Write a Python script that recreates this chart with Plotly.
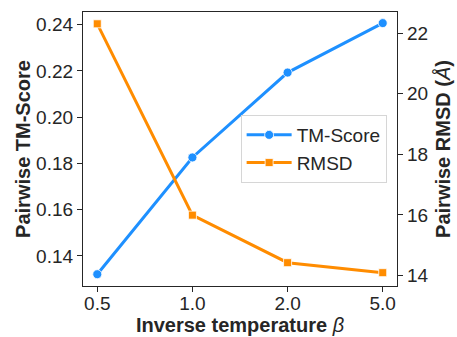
import plotly.graph_objects as go

beta = ["0.5", "1.0", "2.0", "5.0"]
tm_score = [0.1321, 0.1826, 0.2193, 0.2407]
rmsd = [22.31, 15.99, 14.42, 14.09]

blue = "#1E90FF"
orange = "#FF8C00"
axc = "#262626"
font = "Liberation Sans, Arial, sans-serif"

fig = go.Figure()
fig.add_trace(go.Scatter(x=beta, y=tm_score, name="TM-Score", mode="lines+markers",
                         line=dict(color=blue, width=3),
                         marker=dict(symbol="circle", size=9, color=blue, line=dict(color="white", width=0.8)),
                         yaxis="y"))
fig.add_trace(go.Scatter(x=beta, y=rmsd, name="RMSD", mode="lines+markers",
                         line=dict(color=orange, width=3),
                         marker=dict(symbol="square", size=8, color=orange, line=dict(color="white", width=0.8)),
                         yaxis="y2"))

tick_font = dict(size=19, color=axc)
title_font = dict(size=20, color=axc)

fig.update_layout(
    width=457, height=337,
    margin=dict(l=83, r=60, t=12, b=51),
    paper_bgcolor="white", plot_bgcolor="white",
    font=dict(family=font, size=19, color=axc),
    showlegend=True,
    legend=dict(x=0.502, y=0.624, xanchor="left", yanchor="top",
                bgcolor="white", bordercolor="#d6d6d6", borderwidth=1,
                itemwidth=45,
                font=dict(size=19, color=axc), tracegroupgap=0),
    xaxis=dict(type="category", range=[-0.15, 3.15], showgrid=False, zeroline=False,
               showline=True, linecolor=axc, linewidth=1.3, mirror=True,
               ticks="outside", ticklen=5, tickcolor=axc, tickwidth=1.3,
               tickfont=tick_font, automargin=False, ticklabelstandoff=-5,
               title=dict(text="<b>Inverse temperature </b><i>β</i>", font=title_font, standoff=4)),
    yaxis=dict(range=[0.1270, 0.2455], tickvals=[0.14, 0.16, 0.18, 0.20, 0.22, 0.24],
               tickformat=".2f", showgrid=False, zeroline=False,
               showline=True, linecolor=axc, linewidth=1.3, mirror=True,
               ticks="outside", ticklen=5, tickcolor=axc, tickwidth=1.3,
               tickfont=tick_font, automargin=False,
               title=dict(text="<b>Pairwise TM-Score</b>", font=title_font, standoff=0)),
    yaxis2=dict(range=[13.65, 22.70], tickvals=[14, 16, 18, 20, 22], overlaying="y", side="right",
                showgrid=False, zeroline=False, showline=True, linecolor=axc, linewidth=1.3,
                ticks="outside", ticklen=5, tickcolor=axc, tickwidth=1.3,
                tickfont=tick_font, automargin=False,
                title=dict(text="<b>Pairwise RMSD (</b><i>Å</i><b>)</b>", font=title_font, standoff=8)),
)

fig.write_html("out.html")
